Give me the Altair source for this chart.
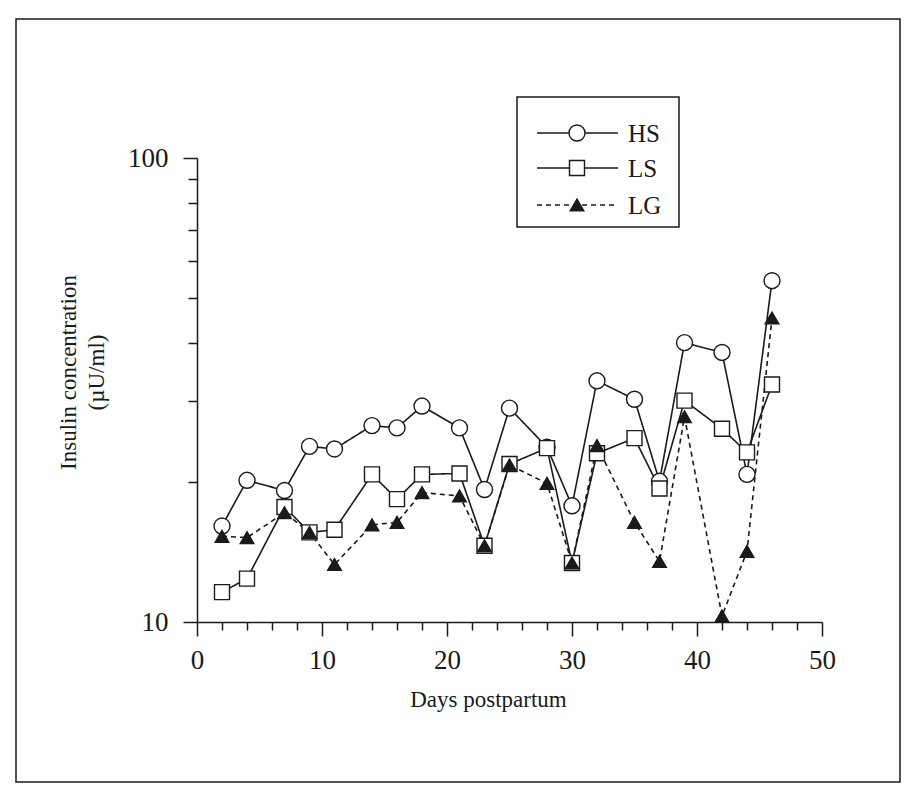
import altair as alt
import pandas as pd

# ---- data ----
days = [2, 4, 7, 9, 11, 14, 16, 18, 21, 23, 25, 28, 30, 32, 35, 37, 39, 42, 44, 46]
hs = [16.1, 20.2, 19.2, 23.9, 23.6, 26.5, 26.2, 29.2, 26.2, 19.3,
      28.9, 23.8, 17.8, 33.1, 30.2, 20.1, 40.0, 38.1, 20.8, 54.4]
ls = [11.6, 12.4, 17.7, 15.6, 15.8, 20.8, 18.4, 20.8, 20.9, 14.6,
      21.9, 23.7, 13.4, 23.1, 24.9, 19.4, 30.0, 26.1, 23.2, 32.5]
lg = [15.3, 15.2, 17.2, 15.6, 13.3, 16.2, 16.4, 19.0, 18.7, 14.6,
      21.8, 19.9, 13.4, 24.0, 16.4, 13.5, 27.7, 10.3, 14.2, 45.2]
groups = ["HS", "LS", "LG"]
x_ticks = list(range(0, 51, 2))
y_ticks = [10, 20, 30, 40, 50, 60, 70, 80, 90, 100]

df = pd.DataFrame({
    "day": days * 3,
    "value": hs + ls + lg,
    "group": ["HS"] * len(days) + ["LS"] * len(days) + ["LG"] * len(days),
})

INK = "#1a1a1a"
FONT = "Liberation Serif"
W, H = 625, 464

shapes = {"HS": "circle", "LS": "square", "LG": "triangle-up"}
fills = {"HS": "white", "LS": "white", "LG": INK}
sizes = {"HS": 256, "LS": 225, "LG": 185}
dashes = {"HS": [1, 0], "LS": [1, 0], "LG": [5, 4]}

x_enc = alt.X("day:Q", scale=alt.Scale(domain=[0, 50], nice=False, zero=False),
              axis=alt.Axis(values=x_ticks, format="d",
                            labelExpr="datum.value % 10 == 0 ? datum.label : ''",
                            tickSize={"condition": {"test": "datum.value % 10 == 0", "value": 14}, "value": 8},
                            labelPadding=11, labelFlush=False, labelOverlap=False,
                            title="Days postpartum", titleX=291, titleY=84,
                            titleAlign="center", titleBaseline="alphabetic"))
y_enc = alt.Y("value:Q", scale=alt.Scale(type="log", domain=[10, 100], nice=False),
              axis=alt.Axis(values=y_ticks, format="d",
                            labelExpr="datum.value == 10 || datum.value == 100 ? datum.label : ''",
                            tickSize={"condition": {"test": "datum.value == 10 || datum.value == 100", "value": 14}, "value": 9},
                            labelPadding=15, labelFlush=False, labelOverlap=False,
                            title=["Insulin concentration", "(\u00b5U/ml)"],
                            titleX=-140, titleY=214, titleAngle=-90,
                            titleAlign="center", titleBaseline="top", titleLineHeight=28))

base = alt.Chart(df)

line_layers = []
point_layers = []
for g in groups:
    sub = base.transform_filter(alt.datum.group == g)
    line_layers.append(
        sub.mark_line(color=INK, strokeWidth=1.6, strokeDash=dashes[g]).encode(x=x_enc, y=y_enc)
    )
    point_layers.append(
        sub.mark_point(shape=shapes[g], filled=True, fill=fills[g], stroke=INK,
                       strokeWidth=1.4, size=sizes[g], opacity=1).encode(x=x_enc, y=y_enc)
    )

# ---- page frame (decoration) ----
frame = alt.Chart(pd.DataFrame({"k": [0]})).mark_rect(
    fillOpacity=0, stroke=INK, strokeWidth=1.5
).encode(x=alt.value(-181), x2=alt.value(703), y=alt.value(-139), y2=alt.value(624))

# ---- legend (decoration) ----
leg_box = alt.Chart(pd.DataFrame({"k": [0]})).mark_rect(
    fill="white", stroke=INK, strokeWidth=1.5
).encode(x=alt.value(320), x2=alt.value(482), y=alt.value(-61), y2=alt.value(69))

leg_layers = [leg_box]
for i, g in enumerate(groups):
    yy = [-25, 10, 47][i]
    one = alt.Chart(pd.DataFrame({"label": [g]}))
    leg_layers.append(one.mark_rule(color=INK, strokeWidth=1.5, strokeDash=dashes[g]).encode(
        x=alt.value(340), x2=alt.value(421), y=alt.value(yy)))
    leg_layers.append(one.mark_point(shape=shapes[g], filled=True, fill=fills[g], stroke=INK,
                                     strokeWidth=1.4, size=sizes[g], opacity=1).encode(
        x=alt.value(380), y=alt.value(yy)))
    leg_layers.append(one.mark_text(align="left", baseline="middle", font=FONT, fontSize=25,
                                    color=INK).encode(
        x=alt.value(431), y=alt.value(yy + 1), text="label:N"))

chart = alt.layer(frame, *line_layers, *point_layers, *leg_layers).properties(
    width=W, height=H,
    padding={"left": 197, "top": 158, "right": 84, "bottom": 169},
    autosize=alt.AutoSizeParams(type="none"),
    background="white",
).configure_view(strokeWidth=0).configure_axis(
    grid=False, domainColor=INK, domainWidth=1.5, tickColor=INK, tickWidth=1.5,
    labelFont=FONT, labelFontSize=27, labelColor=INK,
    titleFont=FONT, titleFontSize=23, titleColor=INK, titleFontWeight="normal",
)

chart.save("out.html", embed_options={"renderer": "svg", "actions": False})
